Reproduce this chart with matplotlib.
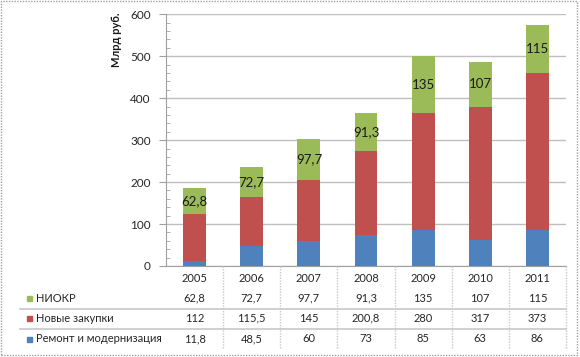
import matplotlib
matplotlib.use("Agg")
import matplotlib.pyplot as plt
import matplotlib.transforms as mtransforms
from matplotlib.lines import Line2D
from matplotlib.patches import Rectangle
from matplotlib.ticker import MultipleLocator

years = ["2005", "2006", "2007", "2008", "2009", "2010", "2011"]
series_names = ["НИОКР", "Новые закупки", "Ремонт и модернизация"]
niokr = [62.8, 72.7, 97.7, 91.3, 135, 107, 115]
zakupki = [112, 115.5, 145, 200.8, 280, 317, 373]
remont = [11.8, 48.5, 60, 73, 85, 63, 86]
y_ticks = [0, 100, 200, 300, 400, 500, 600]
y_label = "Млрд руб."

col_green = "#9BBB59"
col_red = "#C0504D"
col_blue = "#4F81BD"
grid_col = "#BFBFBF"
txt_col = "#262626"

plt.rcParams["font.family"] = ["Lato", "DejaVu Sans"]

W, H = 580, 357
fig = plt.figure(figsize=(W / 100, H / 100), dpi=100)


def fx(px):
    return px / W


def fy(py):
    return 1 - py / H


ax = fig.add_axes([fx(166), fy(266), fx(566) - fx(166), fy(14.3) - fy(266)])
x = list(range(len(years)))
bw = 0.4
b1 = ax.bar(x, remont, bw, color=col_blue, zorder=3)
b2 = ax.bar(x, zakupki, bw, bottom=remont, color=col_red, zorder=3)
bottom3 = [a + b for a, b in zip(remont, zakupki)]
b3 = ax.bar(x, niokr, bw, bottom=bottom3, color=col_green, zorder=3)


def fmt(v):
    return f"{v:g}".replace(".", ",")


ax.bar_label(b3, labels=[fmt(v) for v in niokr], label_type="center",
             fontsize=9.5, color="#1a1a1a", zorder=4)

ax.set_xlim(-0.5, len(years) - 0.5)
ax.set_ylim(0, 600)
ax.set_yticks(y_ticks)
ax.yaxis.set_minor_locator(MultipleLocator(20))
ax.tick_params(axis="y", which="major", direction="out", length=5,
               color="#A0A0A0", labelsize=8.5, labelcolor=txt_col, pad=6)
ax.tick_params(axis="y", which="minor", direction="in", length=3,
               color="#A0A0A0")
ax.set_xticks([])
for s in ["top", "right"]:
    ax.spines[s].set_visible(False)
ax.spines["left"].set_color("#A0A0A0")
ax.spines["bottom"].set_color("#A0A0A0")
ax.grid(axis="y", which="major", color=grid_col, linewidth=1, zorder=0)
ax.set_axisbelow(True)

fig.text(fx(117), fy(40), y_label, rotation=90, ha="center", va="center",
         fontsize=8, fontweight="bold", color="#1a1a1a")

# data table
trans = mtransforms.blended_transform_factory(ax.transData, fig.transFigure)
row_y = [fy(278), fy(298), fy(318), fy(339)]
rows = [niokr, zakupki, remont]
for i, yr in enumerate(years):
    fig.text(i, row_y[0], yr, transform=trans, ha="center", va="center",
             fontsize=8, color=txt_col)
    for r, vals in enumerate(rows):
        fig.text(i, row_y[r + 1], fmt(vals[i]), transform=trans,
                 ha="center", va="center", fontsize=8, color=txt_col)

line_col = "#C8C8C8"
for i in range(len(years)):
    xb = i + 0.5
    fig.add_artist(Line2D([xb, xb], [fy(266), fy(349)], transform=trans,
                          color=line_col, linewidth=1, linestyle=(0, (1, 1))))
for py in [308.5, 329]:
    fig.add_artist(Line2D([fx(20), fx(566)], [fy(py), fy(py)],
                          transform=fig.transFigure, color=line_col,
                          linewidth=1.2))

colors = [col_green, col_red, col_blue]
for r, name in enumerate(series_names):
    fig.add_artist(Rectangle((fx(27), row_y[r + 1] - 2.5 / H), 5 / W, 5 / H,
                             transform=fig.transFigure, color=colors[r]))
    fig.text(fx(36), row_y[r + 1], name, ha="left", va="center",
             fontsize=8, color=txt_col)

# outer border
fig.add_artist(Rectangle((fx(1), fy(355)), fx(577) - fx(1), fy(1) - fy(355),
                         transform=fig.transFigure, fill=False,
                         edgecolor="#A0A0A0", linewidth=1,
                         linestyle=(0, (1, 1))))

fig.savefig("out.png", dpi=100)
